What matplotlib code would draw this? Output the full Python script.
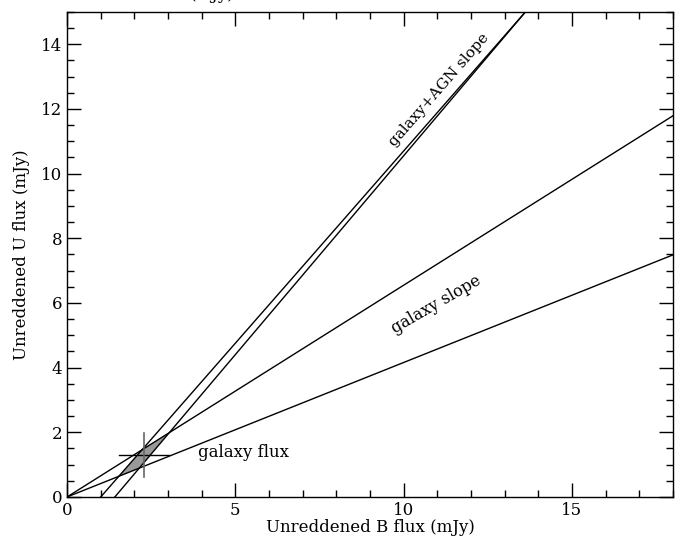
import numpy as np
import matplotlib.pyplot as plt
from matplotlib.ticker import MultipleLocator

# lines (B flux on x, U flux on y)
agn_intercepts = [1.0, 1.42]      # x where the galaxy+AGN lines cross U = 0
agn_slopes = [1.189, 1.230]
gal_slopes = [0.655, 0.416]       # galaxy slope lines through the origin
gal_B, gal_U = 2.28, 1.30         # galaxy flux point
gal_Berr, gal_Uerr = 0.74, 0.68

plt.rcParams['font.family'] = ['DejaVu Serif']
plt.rcParams['mathtext.fontset'] = 'dejavuserif'

fig = plt.figure(figsize=(6.75, 5.37), dpi=100)
ax = fig.add_axes([0.0993, 0.0745, 0.8977, 0.9032])

xx = np.array([0.0, 18.0])
for b0, s in zip(agn_intercepts, agn_slopes):
    ax.plot(xx, s * (xx - b0), color='black', lw=1.0)
for s in gal_slopes:
    ax.plot(xx, s * xx, color='black', lw=1.0)

# shaded region where the two pairs of lines overlap
verts = []
for b0, s in zip(agn_intercepts, agn_slopes):
    for g in gal_slopes:
        xi = s * b0 / (s - g)
        verts.append((xi, g * xi))
poly = [verts[1], verts[0], verts[2], verts[3]]
ax.fill([p[0] for p in poly], [p[1] for p in poly], color='0.6', lw=0, zorder=1)

ax.plot([gal_B - gal_Berr, gal_B + gal_Berr], [gal_U, gal_U], color='black', lw=1.0)
ax.plot([gal_B, gal_B], [gal_U - gal_Uerr, gal_U + gal_Uerr], color='0.4', lw=1.2)

ax.text(11.05, 12.6, 'galaxy+AGN slope', rotation=49, ha='center', va='center', fontsize=11)
ax.text(10.97, 5.94, 'galaxy slope', rotation=30, ha='center', va='center', fontsize=11.5)
ax.text(3.9, 1.39, 'galaxy flux', ha='left', va='center', fontsize=12)

ax.set_xlim(0, 18)
ax.set_ylim(0, 15)
ax.xaxis.set_major_locator(MultipleLocator(5))
ax.xaxis.set_minor_locator(MultipleLocator(1))
ax.yaxis.set_major_locator(MultipleLocator(2))
ax.yaxis.set_minor_locator(MultipleLocator(0.5))
ax.tick_params(which='both', direction='in', top=True, right=True, labelsize=12, width=1)
ax.tick_params(which='major', length=10)
ax.tick_params(which='minor', length=5)
for sp in ax.spines.values():
    sp.set_linewidth(1.0)

ax.set_xlabel('Unreddened B flux (mJy)', fontsize=12, labelpad=0)
ax.set_ylabel('Unreddened U flux (mJy)', fontsize=12, labelpad=8)

# bottom of a label cut off at the top edge
fig.text(0.314, 1 + 1.0 / 537, '(mJy)', ha='center', va='baseline', fontsize=12)

fig.savefig('out.png', dpi=100)
